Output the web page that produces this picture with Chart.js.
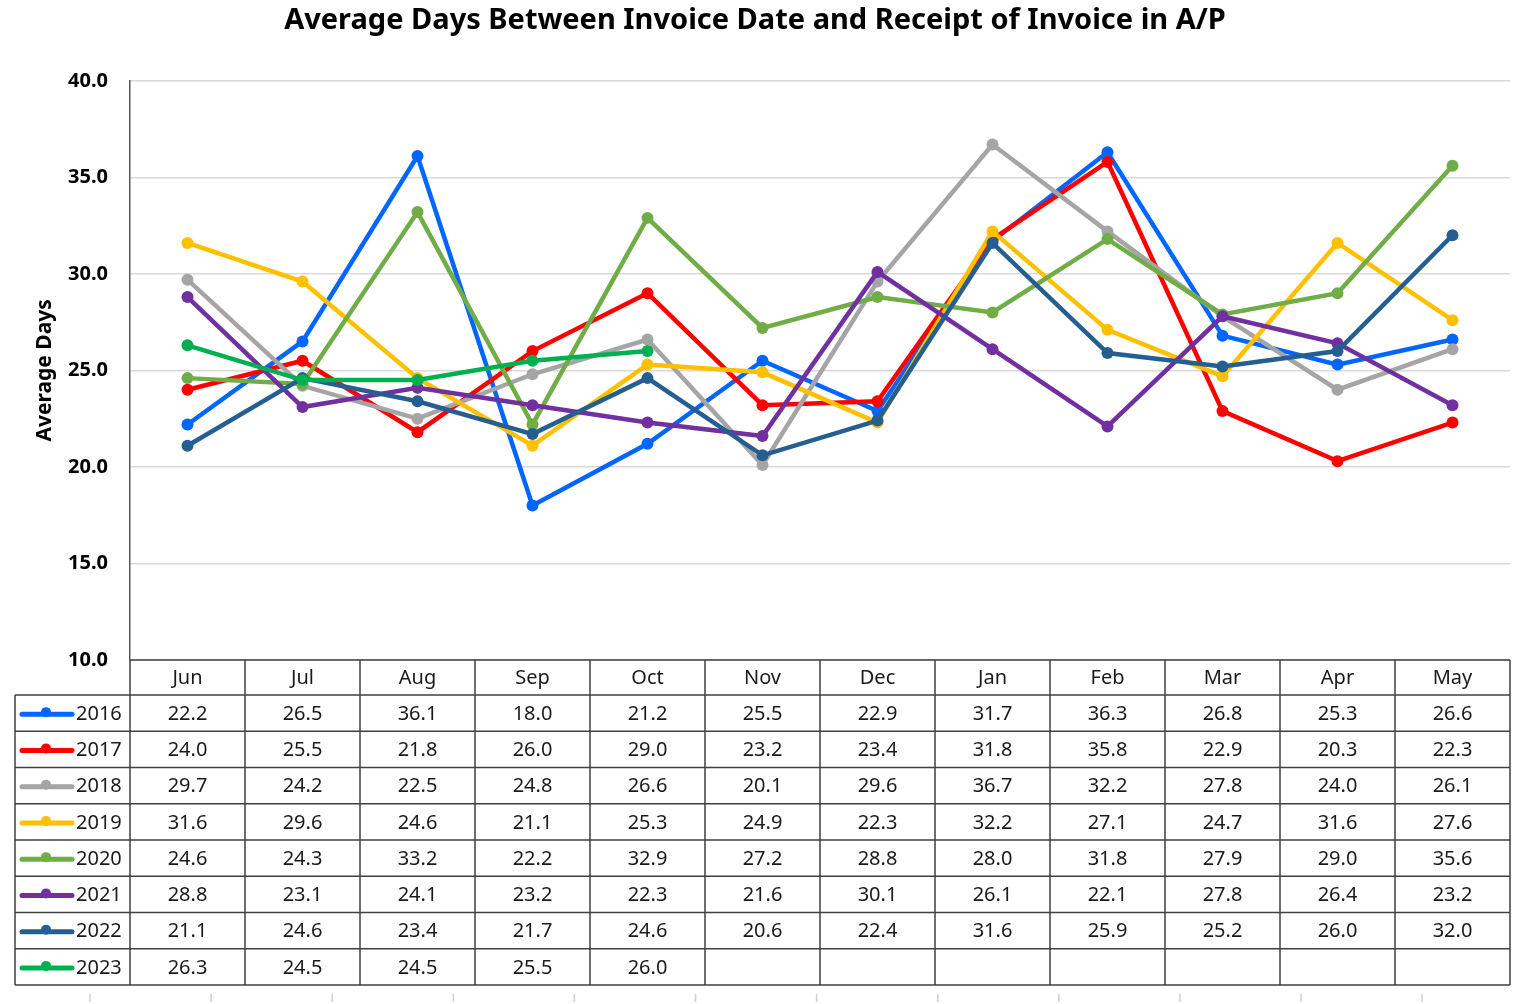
<!DOCTYPE html>
<html>
<head>
<meta charset="utf-8">
<script src="https://cdn.jsdelivr.net/npm/chart.js@4"></script>
<style>
  html, body { margin: 0; padding: 0; background: #fff; }
  #wrap { width: 1524px; height: 1004px; }
</style>
</head>
<body>
<div id="wrap"><canvas id="mychart" width="1524" height="1004"></canvas></div>
<script>
// categories and series
const months = ['Jun','Jul','Aug','Sep','Oct','Nov','Dec','Jan','Feb','Mar','Apr','May'];
const years = ['2016','2017','2018','2019','2020','2021','2022','2023'];
const yTicks = [10, 15, 20, 25, 30, 35, 40];

const v2016 = [22.2, 26.5, 36.1, 18.0, 21.2, 25.5, 22.9, 31.7, 36.3, 26.8, 25.3, 26.6];
const v2017 = [24.0, 25.5, 21.8, 26.0, 29.0, 23.2, 23.4, 31.8, 35.8, 22.9, 20.3, 22.3];
const v2018 = [29.7, 24.2, 22.5, 24.8, 26.6, 20.1, 29.6, 36.7, 32.2, 27.8, 24.0, 26.1];
const v2019 = [31.6, 29.6, 24.6, 21.1, 25.3, 24.9, 22.3, 32.2, 27.1, 24.7, 31.6, 27.6];
const v2020 = [24.6, 24.3, 33.2, 22.2, 32.9, 27.2, 28.8, 28.0, 31.8, 27.9, 29.0, 35.6];
const v2021 = [28.8, 23.1, 24.1, 23.2, 22.3, 21.6, 30.1, 26.1, 22.1, 27.8, 26.4, 23.2];
const v2022 = [21.1, 24.6, 23.4, 21.7, 24.6, 20.6, 22.4, 31.6, 25.9, 25.2, 26.0, 32.0];
const v2023 = [26.3, 24.5, 24.5, 25.5, 26.0, null, null, null, null, null, null, null];

const series = [v2016, v2017, v2018, v2019, v2020, v2021, v2022, v2023];
const colors = ['#0066FF', '#FF0000', '#A5A5A5', '#FFC000', '#70AD47', '#7030A0', '#255E91', '#00B050'];

const font = "'Noto Sans', 'Open Sans', sans-serif";

// data table drawn under the plot, lined up with the category scale
const tablePlugin = {
  id: 'dataTable',
  afterDraw(chart) {
    const ctx = chart.ctx;
    const xs = chart.scales.x;
    const area = chart.chartArea;
    const colW = (area.right - area.left) / months.length;
    const headTop = area.bottom;
    const headH = 35;
    const rowH = 36.25;
    const legLeft = 15;
    const bottom = headTop + headH + rowH * years.length;

    ctx.save();
    ctx.strokeStyle = '#404040';
    ctx.lineWidth = 1.5;

    // horizontal lines
    ctx.beginPath();
    ctx.moveTo(area.left, headTop);
    ctx.lineTo(area.right, headTop);
    for (let r = 0; r <= years.length; r++) {
      const y = headTop + headH + r * rowH;
      ctx.moveTo(legLeft, y);
      ctx.lineTo(area.right, y);
    }
    // vertical lines
    ctx.moveTo(legLeft, headTop + headH);
    ctx.lineTo(legLeft, bottom);
    for (let c = 0; c <= months.length; c++) {
      const x = area.left + c * colW;
      ctx.moveTo(x, headTop);
      ctx.lineTo(x, bottom);
    }
    ctx.stroke();

    ctx.fillStyle = '#1a1a1a';
    ctx.font = '20px ' + font;
    ctx.textAlign = 'center';
    ctx.textBaseline = 'middle';
    months.forEach((m, i) => {
      ctx.fillText(m, xs.getPixelForValue(i), headTop + headH / 2 + 1);
    });

    years.forEach((yr, r) => {
      const cy = headTop + headH + r * rowH + rowH / 2 + 1;
      // legend key
      ctx.strokeStyle = colors[r];
      ctx.lineWidth = 5;
      ctx.lineCap = 'round';
      ctx.beginPath();
      ctx.moveTo(22, cy);
      ctx.lineTo(72, cy);
      ctx.stroke();
      ctx.fillStyle = colors[r];
      ctx.beginPath();
      ctx.arc(46, cy - 2, 5, 0, Math.PI * 2);
      ctx.fill();

      ctx.fillStyle = '#1a1a1a';
      ctx.textAlign = 'left';
      ctx.fillText(yr, 76, cy);
      ctx.textAlign = 'center';
      series[r].forEach((v, i) => {
        if (v === null) return;
        ctx.fillText(v.toFixed(1), xs.getPixelForValue(i), cy);
      });
    });

    // faint tick marks below the table
    ctx.strokeStyle = '#d0d0d0';
    ctx.lineWidth = 1.5;
    ctx.lineCap = 'butt';
    ctx.beginPath();
    for (let k = 0; k < 12; k++) {
      const x = 90 + k * 121.1;
      ctx.moveTo(x, 994);
      ctx.lineTo(x, 1002);
    }
    ctx.stroke();
    ctx.restore();
  }
};

const datasets = years.map((yr, i) => ({
  label: yr,
  data: series[i],
  borderColor: colors[i],
  backgroundColor: colors[i],
  borderWidth: 4.5,
  pointRadius: 6,
  pointHoverRadius: 6,
  pointBorderWidth: 0,
  tension: 0,
  spanGaps: false,
  order: 10 - i
}));

const c = document.getElementById('mychart').getContext('2d');
const mychart = new Chart(c, {
  type: 'line',
  data: { labels: months, datasets: datasets },
  options: {
    responsive: false,
    animation: false,
    layout: { padding: { left: 0, right: 14, top: 0, bottom: 336 } },
    plugins: {
      legend: { display: false },
      tooltip: { enabled: false },
      title: {
        display: true,
        text: 'Average Days Between Invoice Date and Receipt of Invoice in A/P',
        color: '#000',
        font: { family: font, size: 29, weight: 'bold' },
        padding: { top: 3, bottom: 43 }
      }
    },
    scales: {
      x: {
        offset: true,
        grid: { display: false },
        border: { display: false },
        ticks: { display: false }
      },
      y: {
        min: 10,
        max: 40,
        afterFit(scale) { scale.width = 130; },
        afterBuildTicks(scale) { scale.ticks = yTicks.map(v => ({ value: v })); },
        grid: { color: '#d9d9d9', lineWidth: 1.5, drawTicks: false },
        border: { display: true, color: '#595959', width: 1.5 },
        ticks: {
          padding: 22,
          color: '#000',
          font: { family: font, size: 20, weight: 'bold' },
          callback: v => Number(v).toFixed(1)
        },
        title: {
          display: true,
          text: 'Average Days',
          color: '#000',
          font: { family: font, size: 21, weight: 'bold' },
          padding: { top: 32, bottom: 0 }
        }
      }
    }
  },
  plugins: [tablePlugin]
});
</script>
</body>
</html>
